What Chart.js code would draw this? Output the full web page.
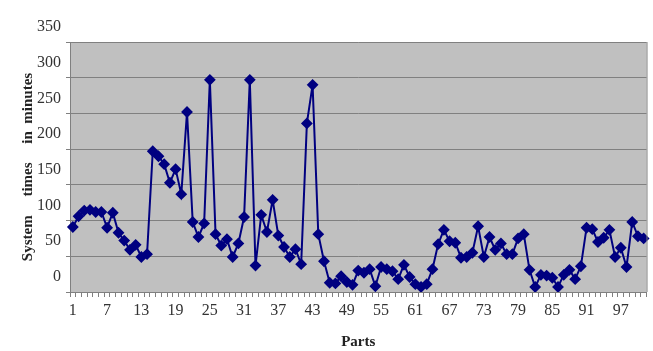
<!DOCTYPE html>
<html>
<head>
<meta charset="utf-8">
<script src="https://cdn.jsdelivr.net/npm/chart.js@4"></script>
<style>
  html, body { margin: 0; padding: 0; background: #fff; }
  #wrap { width: 653px; height: 351px; }
</style>
</head>
<body>
<div id="wrap"><canvas id="systemTimes"></canvas></div>
<script>
// parts 1..101
const parts = [
  1,2,3,4,5,6,7,8,9,10,11,12,13,14,15,16,17,18,19,20,
  21,22,23,24,25,26,27,28,29,30,31,32,33,34,35,36,37,38,39,40,
  41,42,43,44,45,46,47,48,49,50,51,52,53,54,55,56,57,58,59,60,
  61,62,63,64,65,66,67,68,69,70,71,72,73,74,75,76,77,78,79,80,
  81,82,83,84,85,86,87,88,89,90,91,92,93,94,95,96,97,98,99,100,101
]

// system time (minutes) per part
const systemTimes = [
  91,106,114,115,112,112,90,111,83,72,59,66,49,53,197,190,179,153,172,137,
  252,98,77,96,297,81,65,74,49,68,105,297,37,108,84,129,79,63,49,60,
  39,236,290,81,43,13,12,22,14,10,30,27,32,8,35,32,29,18,38,21,
  11,7,11,32,67,87,71,69,48,49,55,92,49,77,59,68,53,53,75,81,
  31,7,24,23,20,7,24,31,18,36,90,88,70,76,87,49,62,35,98,78,75
]

// labels shown under the x axis
const xTickLabels = ['1','7','13','19','25','31','37','43','49','55','61','67','73','79','85','91','97']

const yTicks = [0, 50, 100, 150, 200, 250, 300, 350]

const plotBg = {
  id: 'plotBg',
  beforeDraw(chart) {
    const {ctx, chartArea} = chart
    ctx.save()
    ctx.fillStyle = '#c0c0c0'
    ctx.fillRect(chartArea.left, chartArea.top, chartArea.right - chartArea.left, chartArea.bottom - chartArea.top)
    ctx.restore()
  },
  afterDatasetsDraw(chart) {
    const {ctx, chartArea} = chart
    ctx.save()
    ctx.strokeStyle = '#808080'
    ctx.lineWidth = 1
    ctx.beginPath()
    ctx.moveTo(chartArea.right + 0.5, chartArea.top)
    ctx.lineTo(chartArea.right + 0.5, chartArea.bottom)
    ctx.stroke()
    ctx.restore()
  }
}

let chartEle = document.getElementById('systemTimes').getContext('2d')

let chart = new Chart(chartEle, {
  type: 'line',
  data: {
    labels: parts.map(p => String(p)),
    datasets: [
      {
        data: systemTimes,
        borderColor: '#000080',
        backgroundColor: '#000080',
        borderWidth: 2,
        pointStyle: 'rectRot',
        pointRadius: 4.5,
        pointHoverRadius: 4.5,
        tension: 0,
      },
    ],
  },
  options: {
    responsive: true,
    maintainAspectRatio: false,
    animation: false,
    layout: {
      padding: { top: 42, right: 3, bottom: 0, left: 0 },
    },
    plugins: {
      legend: { display: false },
      tooltip: { enabled: false },
    },
    scales: {
      x: {
        offset: true,
        afterFit: (scale) => { scale.height = 59 },
        grid: {
          offset: true,
          drawOnChartArea: false,
          drawTicks: true,
          tickLength: 5,
          color: '#808080',
        },
        border: { color: '#808080', width: 1 },
        ticks: {
          autoSkip: false,
          maxRotation: 0,
          minRotation: 0,
          padding: 4,
          color: '#333333',
          font: { family: '"Liberation Serif", "Times New Roman", serif', size: 16 },
          callback: function(value, index) {
            let lab = this.getLabelForValue(value)
            return xTickLabels.includes(lab) ? lab : ''
          },
        },
        title: {
          display: true,
          text: 'Parts',
          color: '#222222',
          font: { family: '"Liberation Serif", "Times New Roman", serif', size: 15, weight: 'bold' },
          padding: { top: 0, bottom: 0 },
        },
      },
      y: {
        min: 0,
        max: 350,
        afterFit: (scale) => { scale.width = 70 },
        afterBuildTicks: (scale) => { scale.ticks = yTicks.map(v => ({ value: v })) },
        grid: {
          color: '#808080',
          lineWidth: 1,
          drawTicks: true,
          tickLength: 4,
        },
        border: { color: '#808080', width: 1 },
        ticks: {
          stepSize: 50,
          padding: 5,
          labelOffset: -15,
          color: '#333333',
          font: { family: '"Liberation Serif", "Times New Roman", serif', size: 16 },
        },
        title: {
          display: true,
          text: 'System     times     in  minutes',
          color: '#222222',
          font: { family: '"Liberation Serif", "Times New Roman", serif', size: 15, weight: 'bold' },
          padding: { top: 19, bottom: 0 },
        },
      },
    },
  },
  plugins: [plotBg],
})
</script>
</body>
</html>
